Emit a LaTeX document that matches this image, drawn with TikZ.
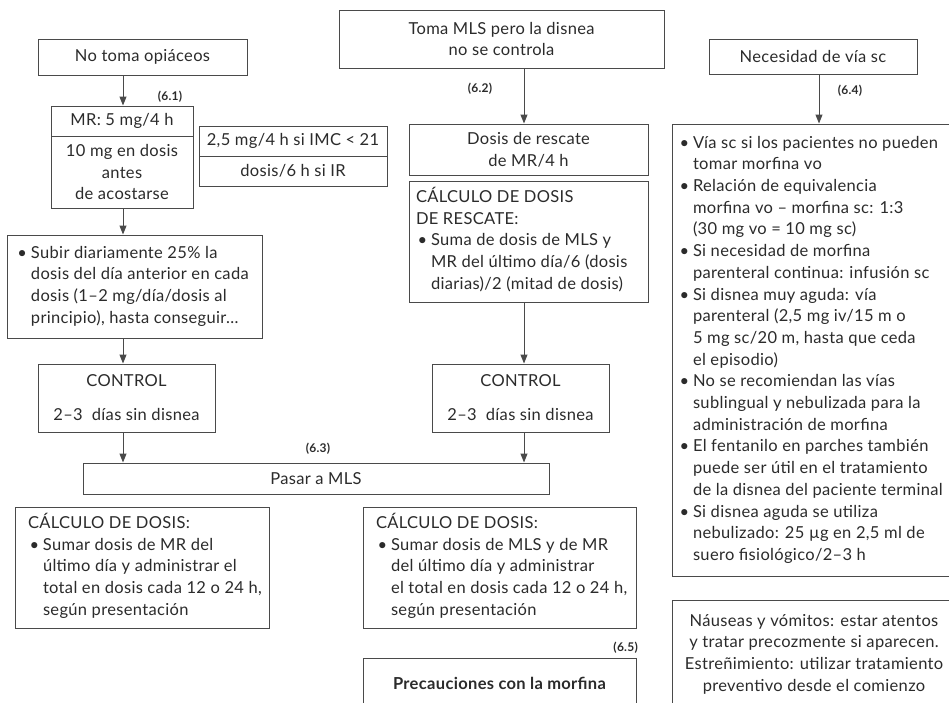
\documentclass[tikz,border=0pt]{standalone}
\usepackage{fontspec}
\setmainfont{Lato}[LetterSpace=2]
\usetikzlibrary{arrows.meta}
\definecolor{linec}{HTML}{4A4A4A}
\definecolor{txt}{HTML}{2B2B2B}
\newcommand\fs{\fontsize{16.5}{21.7}\selectfont}
\newcommand\bl{\makebox[15pt][l]{\hspace{1.5pt}\textbullet}}
\newcommand\ind{\hspace*{15pt}}
% left-aligned block of fixed width, lines never re-broken
\newcommand\lft[2]{\makebox[#1][l]{\begin{tabular}{@{}l@{}}#2\end{tabular}}}
\tikzset{
  box/.style={draw=linec, line width=1pt, inner sep=0pt, text=txt, font=\fs, align=center, anchor=center},
  arr/.style={draw=linec, line width=1pt, -{Triangle[length=9pt,width=7pt]}},
  tag/.style={text=txt, font=\fontsize{12}{14}\selectfont\bfseries, inner sep=0pt}
}
\begin{document}
\begin{tikzpicture}[x=1pt,y=-1pt]
\useasboundingbox (0,0) rectangle (949,702);
\clip (0,0) rectangle (949,702);
\fill[white] (0,0) rectangle (949,702);

% left column
\node[box, minimum width=209pt, minimum height=36pt] (notoma) at (142.5,57) {No toma opiáceos};
\node[box, minimum width=142pt, minimum height=30pt] (mrtop) at (122,121) {MR: 5 mg/4 h};
\node[box, minimum width=142pt, minimum height=72pt] (mrbot) at (122,172) {10 mg en dosis\\antes\\de acostarse};
\node[box, minimum width=188pt, minimum height=30pt] (imc) at (293,141) {2,5 mg/4 h si IMC < 21};
\node[box, minimum width=188pt, minimum height=30pt] (ir) at (293,171) {dosis/6 h si IR};
\node[box, minimum width=255pt, minimum height=103pt, inner xsep=9pt] (subir) at (134.5,286.5)
  {\lft{237pt}{\bl Subir diariamente 25\% la\\
  \ind dosis del día anterior en cada\\
  \ind dosis (1–2 mg/día/dosis al\\
  \ind principio), hasta conseguir\ldots}};
\node[box, minimum width=177pt, minimum height=68pt] (ctrlA) at (126.5,398) {CONTROL\\[12.3pt]2–3\ \ días sin disnea};
\node[box, minimum width=466pt, minimum height=31pt] (pasar) at (316,478.5) {Pasar a MLS};
\node[box, minimum width=254pt, minimum height=121pt, inner xsep=13pt] (calcA) at (142,567.5)
  {\lft{228pt}{CÁLCULO DE DOSIS:\\
  \bl Sumar dosis de MR del\\
  \ind último día y administrar el\\
  \ind total en dosis cada 12 o 24 h,\\
  \ind según presentación}};

% middle column
\node[box, minimum width=325pt, minimum height=58pt] (toma) at (501.5,39) {Toma MLS pero la disnea\\no se controla};
\node[box, minimum width=239pt, minimum height=51pt] (dosis) at (528.5,149.5) {Dosis de rescate\\de MR/4 h};
\node[box, minimum width=239pt, minimum height=121pt, inner xsep=7pt] (rescate) at (528.5,241.5)
  {\lft{225pt}{CÁLCULO DE DOSIS\\
  DE RESCATE:\\
  \bl Suma de dosis de MLS y\\
  \ind MR del último día/6 (dosis\\
  \ind diarias)/2 (mitad de dosis)}};
\node[box, minimum width=177pt, minimum height=68pt] (ctrlB) at (520.5,398) {CONTROL\\[12.3pt]2–3\ \ días sin disnea};
\node[box, minimum width=273pt, minimum height=121pt, inner xsep=13pt] (calcB) at (499.5,567.5)
  {\lft{247pt}{CÁLCULO DE DOSIS:\\
  \bl Sumar dosis de MLS y de MR\\
  \ind del último día y administrar\\
  \ind el total en dosis cada 12 o 24 h,\\
  \ind según presentación}};
\node[box, minimum width=273pt, minimum height=50pt, font=\fs\bfseries] (precau) at (499.5,683) {Precauciones con la morfina};

% right column
\node[box, minimum width=208pt, minimum height=35pt] (necesidad) at (813,56.5) {Necesidad de vía sc};
\node[box, minimum width=284pt, minimum height=452pt, inner xsep=6pt] (viasc) at (814,350)
  {\lft{272pt}{\bl Vía sc si los pacientes no pueden\\
  \ind tomar morfina vo\\
  \bl Relación de equivalencia\\
  \ind morfina vo – morfina sc: 1:3\\
  \ind (30 mg vo = 10 mg sc)\\
  \bl Si necesidad de morfina\\
  \ind parenteral continua: infusión sc\\
  \bl Si disnea muy aguda: vía\\
  \ind parenteral (2,5 mg iv/15 m o\\
  \ind 5 mg sc/20 m, hasta que ceda\\
  \ind el episodio)\\
  \bl No se recomiendan las vías\\
  \ind sublingual y nebulizada para la\\
  \ind administración de morfina\\
  \bl El fentanilo en parches también\\
  \ind puede ser útil en el tratamiento\\
  \ind de la disnea del paciente terminal\\
  \bl Si disnea aguda se utiliza\\
  \ind nebulizado: 25 µg en 2,5 ml de\\
  \ind suero fisiológico/2–3 h}};
\node[box, minimum width=284pt, minimum height=108pt] (nauseas) at (814,654)
  {Náuseas y vómitos: estar atentos\\y tratar precozmente si aparecen.\\Estreñimiento: utilizar tratamiento\\preventivo desde el comienzo};

% section tags
\node[tag] (t61) at (170,97) {(6.1)};
\node[tag] (t62) at (480,89) {(6.2)};
\node[tag] (t63) at (318,449) {(6.3)};
\node[tag] (t64) at (850,91) {(6.4)};
\node[tag, anchor=east] (t65) at (638,648) {(6.5)};

% connectors
\coordinate (lx) at (123,0);
\coordinate (mx) at (524,0);
\coordinate (rx) at (819,0);
\draw[arr] (lx |- notoma.south) -- (lx |- mrtop.north);
\draw[arr] (lx |- mrbot.south) -- (lx |- subir.north);
\draw[arr] (lx |- subir.south) -- (lx |- ctrlA.north);
\draw[arr] (lx |- ctrlA.south) -- (lx |- pasar.north);
\draw[arr] (mx |- toma.south) -- (mx |- dosis.north);
\draw[arr] (mx |- rescate.south) -- (mx |- ctrlB.north);
\draw[arr] (mx |- ctrlB.south) -- (mx |- pasar.north);
\draw[arr] (rx |- necesidad.south) -- (rx |- viasc.north);
\end{tikzpicture}
\end{document}
